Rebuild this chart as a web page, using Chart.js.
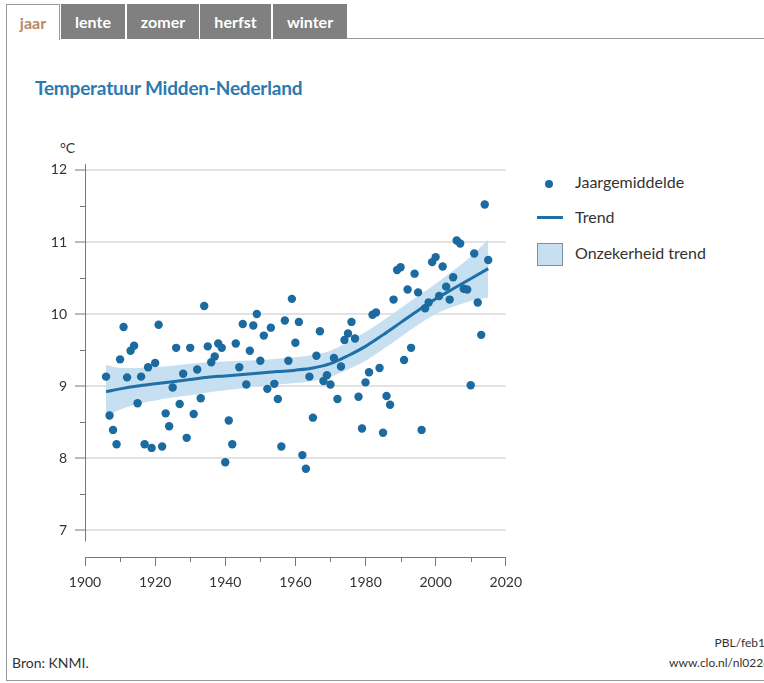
<!DOCTYPE html>
<html>
<head>
<meta charset="utf-8">
<script src="https://cdn.jsdelivr.net/npm/chart.js@4.4.1/dist/chart.umd.min.js"></script>
<style>
  body { margin: 0; width: 764px; height: 683px; background: #fff; overflow: hidden; position: relative; font-family: Lato, "Open Sans", sans-serif; }
  .tab { position: absolute; top: 4px; height: 35px; box-sizing: border-box; font-weight: bold; font-size: 16px; color: #fff; background: #808080; text-align: center; line-height: 36px; }
  .tab.active { background: #fff; color: #b48a62; border: 1px solid #9a9a9a; border-bottom: none; height: 36px; }
  #topline { position: absolute; left: 347px; right: 0; top: 38px; height: 1px; background: #9a9a9a; }
  #leftline { position: absolute; left: 6px; top: 39px; width: 1px; height: 641px; background: #9a9a9a; }
  #bottomline { position: absolute; left: 6px; right: 0; top: 680px; height: 1px; background: #9a9a9a; }
  #title { position: absolute; left: 35px; top: 76px; font-size: 19px; font-weight: bold; color: #2b79b1; letter-spacing: -0.2px; }
  #unit { position: absolute; left: 60px; top: 139px; font-size: 14px; color: #333; }
  #wrap { position: absolute; left: 0; top: 140px; width: 530px; height: 459px; }
  .leg { position: absolute; font-size: 16px; color: #333; }
  .foot { position: absolute; font-size: 14px; color: #333; white-space: nowrap; }
</style>
</head>
<body>
<div class="tab active" style="left:6px;width:54px;">jaar</div>
<div class="tab" style="left:61px;width:64px;">lente</div>
<div class="tab" style="left:127px;width:72px;">zomer</div>
<div class="tab" style="left:200px;width:71px;">herfst</div>
<div class="tab" style="left:273px;width:74px;">winter</div>
<div id="topline"></div>
<div id="leftline"></div>
<div id="bottomline"></div>

<div id="title">Temperatuur Midden-Nederland</div>
<div id="unit">°C</div>
<div id="wrap"><canvas id="chart"></canvas></div>

<div style="position:absolute;left:545px;top:180px;width:8px;height:8px;border-radius:50%;background:#1b6aa0;"></div>
<div class="leg" style="left:575px;top:172px;">Jaargemiddelde</div>
<div style="position:absolute;left:537px;top:216px;width:26px;height:3px;background:#1f6fa8;"></div>
<div class="leg" style="left:575px;top:207px;">Trend</div>
<div style="position:absolute;left:537px;top:243px;width:26px;height:23px;box-sizing:border-box;background:#c6dff1;border:1px solid #7d8f9c;"></div>
<div class="leg" style="left:575px;top:243px;">Onzekerheid trend</div>

<div class="foot" style="left:12px;top:654px;">Bron: KNMI.</div>
<div class="foot" style="right:-8px;top:635px;font-size:12px;">PBL/feb16</div>
<div class="foot" style="right:-20px;top:655px;font-size:12px;">www.clo.nl/nl022613</div>

<script>
const years = [1906,1907,1908,1909,1910,1911,1912,1913,1914,1915,1916,1917,1918,1919,1920,
  1921,1922,1923,1924,1925,1926,1927,1928,1929,1930,1931,1932,1933,1934,1935,1936,1937,1938,1939,1940,
  1941,1942,1943,1944,1945,1946,1947,1948,1949,1950,1951,1952,1953,1954,1955,1956,1957,1958,1959,1960,
  1961,1962,1963,1964,1965,1966,1967,1968,1969,1970,1971,1972,1973,1974,1975,1976,1977,1978,1979,1980,
  1981,1982,1983,1984,1985,1986,1987,1988,1989,1990,1991,1992,1993,1994,1995,1996,1997,1998,1999,2000,
  2001,2002,2003,2004,2005,2006,2007,2008,2009,2010,2011,2012,2013,2014,2015];
const temps = [9.13,8.59,8.39,8.19,9.37,9.82,9.12,9.49,9.56,8.76,9.13,8.19,9.26,8.14,9.32,
  9.85,8.16,8.62,8.44,8.98,9.53,8.75,9.17,8.28,9.53,8.61,9.23,8.83,10.11,9.55,9.33,9.41,9.59,9.53,7.94,
  8.52,8.19,9.59,9.26,9.86,9.02,9.49,9.84,10.00,9.35,9.70,8.96,9.81,9.03,8.82,8.16,9.91,9.35,10.21,9.60,
  9.89,8.04,7.85,9.13,8.56,9.42,9.76,9.07,9.15,9.02,9.39,8.82,9.27,9.64,9.73,9.89,9.66,8.85,8.41,9.05,
  9.19,9.99,10.02,9.25,8.35,8.86,8.74,10.20,10.61,10.65,9.36,10.34,9.53,10.56,10.30,8.39,10.08,10.16,10.72,10.79,
  10.25,10.66,10.38,10.20,10.51,11.02,10.98,10.35,10.34,9.01,10.84,10.16,9.71,11.52,10.75];

const trendYears = [1906,1910,1915,1920,1925,1930,1935,1940,1945,1950,1955,1960,1965,1970,1975,1980,1985,1990,1995,2000,2005,2010,2015];
const trend     = [8.92,8.96,9.00,9.03,9.06,9.09,9.12,9.14,9.16,9.18,9.20,9.22,9.25,9.31,9.42,9.55,9.71,9.88,10.05,10.21,10.35,10.49,10.63];
const bandHigh  = [9.29,9.25,9.25,9.26,9.28,9.31,9.33,9.34,9.35,9.36,9.38,9.40,9.43,9.49,9.61,9.75,9.91,10.08,10.25,10.42,10.60,10.80,11.03];
const bandLow   = [8.57,8.67,8.75,8.80,8.84,8.87,8.91,8.94,8.97,9.00,9.02,9.04,9.07,9.13,9.23,9.35,9.51,9.68,9.85,10.00,10.10,10.18,10.23];

const xTickLabels = [1900,1920,1940,1960,1980,2000,2020];
const xMinorTicks = [1910,1930,1950,1970,1990,2010];
const yTickLabels = [7,8,9,10,11,12];
const yMinorTicks = [7.5,8.5,9.5,10.5,11.5];

function pts(xs, ys) { return xs.map((x, i) => ({ x: x, y: ys[i] })); }

// axis line on the left and the short minor ticks
const axisDeco = {
  id: 'axisDeco',
  afterDraw(chart) {
    const c = chart.ctx, xs = chart.scales.x, ys = chart.scales.y;
    c.save();
    c.strokeStyle = '#777';
    c.lineWidth = 1;
    c.beginPath();
    c.moveTo(xs.left + 0.5, ys.getPixelForValue(12.08));
    c.lineTo(xs.left + 0.5, ys.getPixelForValue(6.84));
    yMinorTicks.forEach(v => {
      const py = Math.round(ys.getPixelForValue(v)) + 0.5;
      c.moveTo(xs.left - 5, py);
      c.lineTo(xs.left, py);
    });
    xMinorTicks.forEach(v => {
      const px = Math.round(xs.getPixelForValue(v)) + 0.5;
      c.moveTo(px, ys.bottom);
      c.lineTo(px, ys.bottom + 5);
    });
    c.stroke();
    c.restore();
  }
};

const ctx = document.getElementById('chart').getContext('2d');
new Chart(ctx, {
  data: {
    datasets: [
      {
        type: 'scatter',
        data: pts(years, temps),
        backgroundColor: '#1b6aa0',
        borderWidth: 0,
        pointRadius: 4.2,
        order: 0
      },
      {
        type: 'line',
        data: pts(trendYears, trend),
        borderColor: '#1f6fa8',
        borderWidth: 3,
        pointRadius: 0,
        cubicInterpolationMode: 'monotone',
        fill: false,
        order: 1
      },
      {
        type: 'line',
        data: pts(trendYears, bandHigh),
        borderWidth: 0,
        borderColor: 'rgba(0,0,0,0)',
        pointRadius: 0,
        cubicInterpolationMode: 'monotone',
        backgroundColor: 'rgb(198,223,241)',
        fill: '+1',
        order: 2
      },
      {
        type: 'line',
        data: pts(trendYears, bandLow),
        borderWidth: 0,
        borderColor: 'rgba(0,0,0,0)',
        pointRadius: 0,
        cubicInterpolationMode: 'monotone',
        fill: false,
        order: 2
      }
    ]
  },
  options: {
    responsive: true,
    maintainAspectRatio: false,
    animation: false,
    layout: { padding: { top: 23, right: 18, bottom: 0, left: 0 } },
    plugins: { legend: { display: false }, tooltip: { enabled: false } },
    scales: {
      x: {
        type: 'linear',
        min: 1900,
        max: 2020,
        afterBuildTicks: s => { s.ticks = xTickLabels.map(v => ({ value: v })); },
        afterFit: s => { s.height = 42; },
        grid: { drawOnChartArea: false, tickLength: 9, tickColor: '#777' },
        border: { color: '#777' },
        ticks: { padding: 8, color: '#333', font: { family: 'Lato', size: 14 }, maxRotation: 0, callback: v => String(v) }
      },
      y: {
        min: 6.625,
        max: 12.097,
        afterBuildTicks: s => { s.ticks = yTickLabels.map(v => ({ value: v })); },
        afterFit: s => { s.width = 85; },
        grid: { color: '#e2e2e2', lineWidth: 2, tickLength: 10, tickColor: '#777', tickWidth: 1 },
        border: { display: false },
        ticks: { padding: 8, color: '#333', font: { family: 'Lato', size: 14 }, callback: v => String(v) }
      }
    }
  },
  plugins: [axisDeco]
});
</script>
</body>
</html>
